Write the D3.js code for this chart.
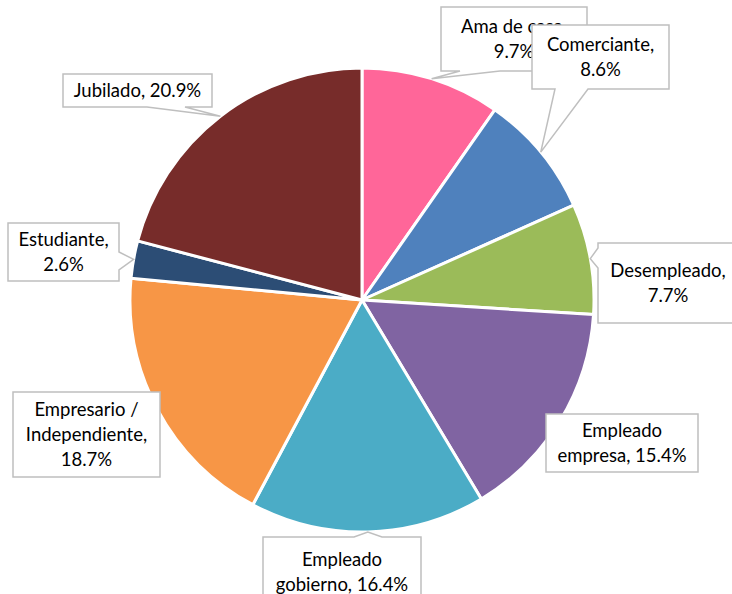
<!DOCTYPE html>
<html>
<head>
<meta charset="utf-8">
<script src="https://cdn.jsdelivr.net/npm/d3@7"></script>
<style>
  body { margin: 0; background: #fff; }
  svg { display: block; }
</style>
</head>
<body>
<div id="chart"></div>
<script>
// data
var categories = ["Ama de casa", "Comerciante", "Desempleado", "Empleado empresa",
                  "Empleado gobierno", "Empresario / Independiente", "Estudiante", "Jubilado"];
var percents = [9.7, 8.6, 7.7, 15.4, 16.4, 18.7, 2.6, 20.9];
var labelLines = [
  ["Ama de casa,", "9.7%"],
  ["Comerciante,", "8.6%"],
  ["Desempleado,", "7.7%"],
  ["Empleado", "empresa, 15.4%"],
  ["Empleado", "gobierno, 16.4%"],
  ["Empresario /", "Independiente,", "18.7%"],
  ["Estudiante,", "2.6%"],
  ["Jubilado, 20.9%"]
];
var colors = ["#FF6699", "#4F81BD", "#9BBB59", "#8064A2", "#4BACC6", "#F79646", "#2C4D75", "#772C2A"];

// label box layout: x, y, w, h, side of pointer, pointer base [from, to]
var boxes = [
  {x: 441, y: 7, w: 146, h: 64, side: "bottom", base: [460, 500]},
  {x: 532, y: 25, w: 137, h: 64, side: "bottom", base: [555, 588]},
  {x: 598, y: 243, w: 140, h: 80, side: "left", base: [248, 268]},
  {x: 546, y: 414, w: 152, h: 58, side: null},
  {x: 263, y: 537, w: 158, h: 70, side: "top", base: [354, 382]},
  {x: 13, y: 392, w: 147, h: 85, side: null},
  {x: 8, y: 223, w: 111, h: 58, side: "right", base: [252, 270]},
  {x: 63, y: 74, w: 149, h: 33, side: "bottom", base: [147, 185]}
];

var svgWidth = 732;
var svgHeight = 594;
var cx = 362, cy = 300, radius = 232;

var svg = d3.select("#chart")
  .append("svg")
  .attr("width", svgWidth)
  .attr("height", svgHeight);

var data = categories.map(function (c, i) {
  return {name: c, value: percents[i], lines: labelLines[i], color: colors[i], box: boxes[i]};
});

var pie = d3.pie()
  .sort(null)
  .value(function (d) { return d.value; });

var arc = d3.arc().innerRadius(0).outerRadius(radius);
var edgeArc = d3.arc().innerRadius(radius).outerRadius(radius);

var arcs = pie(data);

var g = svg.append("g").attr("transform", "translate(" + cx + "," + cy + ")");

g.selectAll("path")
  .data(arcs)
  .enter()
  .append("path")
  .attr("d", arc)
  .attr("fill", function (d) { return d.data.color; })
  .attr("stroke", "#fff")
  .attr("stroke-width", 3)
  .attr("stroke-linejoin", "round");

// callout shape: rectangle with a pointer inserted on one side
function calloutPath(b, tip) {
  var x0 = b.x, y0 = b.y, x1 = b.x + b.w, y1 = b.y + b.h;
  var p = d3.path();
  p.moveTo(x0, y0);
  if (b.side === "top") {
    p.lineTo(b.base[0], y0); p.lineTo(tip[0], tip[1]); p.lineTo(b.base[1], y0);
  }
  p.lineTo(x1, y0);
  if (b.side === "right") {
    p.lineTo(x1, b.base[0]); p.lineTo(tip[0], tip[1]); p.lineTo(x1, b.base[1]);
  }
  p.lineTo(x1, y1);
  if (b.side === "bottom") {
    p.lineTo(b.base[1], y1); p.lineTo(tip[0], tip[1]); p.lineTo(b.base[0], y1);
  }
  p.lineTo(x0, y1);
  if (b.side === "left") {
    p.lineTo(x0, b.base[1]); p.lineTo(tip[0], tip[1]); p.lineTo(x0, b.base[0]);
  }
  p.closePath();
  return p.toString();
}

var lineHeight = 25;

var labels = svg.append("g")
  .selectAll("g")
  .data(arcs)
  .enter()
  .append("g");

labels.append("path")
  .attr("d", function (d) {
    var c = edgeArc.centroid(d);
    return calloutPath(d.data.box, [cx + c[0], cy + c[1]]);
  })
  .attr("fill", "#fff")
  .attr("stroke", "#BFBFBF")
  .attr("stroke-width", 1.5);

labels.each(function (d) {
  var b = d.data.box;
  var n = d.data.lines.length;
  var midY = b.y + b.h / 2;
  d3.select(this).selectAll("text")
    .data(d.data.lines)
    .enter()
    .append("text")
    .attr("x", b.x + b.w / 2)
    .attr("y", function (t, i) { return midY + (i - (n - 1) / 2) * lineHeight; })
    .attr("dy", "0.35em")
    .attr("text-anchor", "middle")
    .style("font-family", "Lato, 'Open Sans', sans-serif")
    .style("font-size", "18.5px")
    .style("fill", "#000")
    .text(function (t) { return t; });
});
</script>
</body>
</html>
